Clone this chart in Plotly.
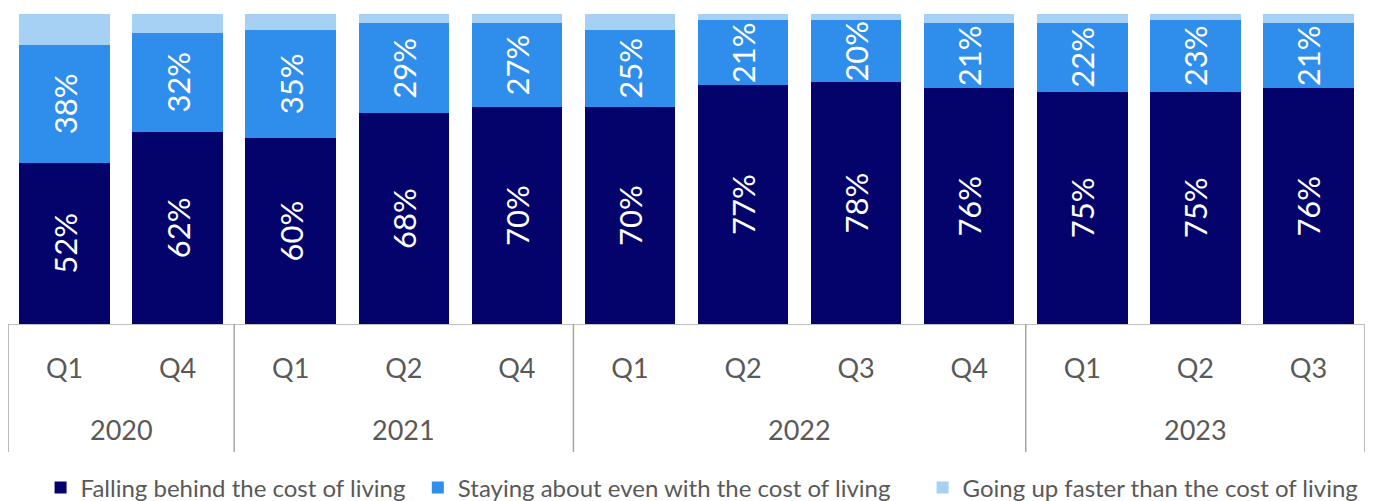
import plotly.graph_objects as go

years = ["2020", "2020", "2021", "2021", "2021", "2022", "2022", "2022", "2022", "2023", "2023", "2023"]
quarters = ["Q1", "Q4", "Q1", "Q2", "Q4", "Q1", "Q2", "Q3", "Q4", "Q1", "Q2", "Q3"]

falling_behind = [52, 62, 60, 68, 70, 70, 77, 78, 76, 75, 75, 76]
staying_even = [38, 32, 35, 29, 27, 25, 21, 20, 21, 22, 23, 21]
going_up = [10, 6, 5, 3, 3, 5, 2, 2, 3, 3, 2, 3]

series_names = [
    "Falling behind the cost of living",
    "Staying about even with the cost of living",
    "Going up faster than the cost of living",
]
colors = ["#03036B", "#2F8DEB", "#A7D0F5"]
legend_ids = ["legend", "legend2", "legend3"]
legend_x = [0.024, 0.302, 0.674]

FONT = "Lato, 'Open Sans', sans-serif"
TEXT_GREY = "#595959"

W, H = 1378, 501
M_L, M_R, M_T, M_B = 8, 13, 14, 177

# unique category keys keep the bars in the original order
keys = [f"{y} {q}" for y, q in zip(years, quarters)]

fig = go.Figure()
for name, vals, col, show, lid in zip(series_names, [falling_behind, staying_even, going_up],
                                      colors, [True, True, False], legend_ids):
    fig.add_trace(go.Bar(
        x=keys,
        y=vals,
        name=name,
        legend=lid,
        marker=dict(color=col, line=dict(width=0)),
        text=[f"{v}%" for v in vals] if show else None,
        texttemplate="%{text}" if show else None,
        textposition="inside" if show else "none",
        insidetextanchor="middle",
        textangle=-90,
        constraintext="none",
        textfont=dict(color="white", size=31, family=FONT),
        hoverinfo="skip",
    ))

# group (year) labels and dividers, positioned from the data order
group_years = []
group_ranges = {}
for i, y in enumerate(years):
    if y not in group_ranges:
        group_years.append(y)
        group_ranges[y] = [i, i]
    group_ranges[y][1] = i

plot_h = H - M_T - M_B
axis_px = M_T + plot_h
year_y = -(430 - axis_px) / plot_h
div_bottom = -(452 - axis_px) / plot_h
legend_y = -(488 - axis_px) / plot_h

for y in group_years:
    a, b = group_ranges[y]
    fig.add_annotation(
        x=(a + b) / 2, y=year_y, xref="x", yref="paper",
        text=y, showarrow=False, yanchor="middle",
        font=dict(size=27, color=TEXT_GREY, family=FONT),
    )

boundaries = [group_ranges[group_years[0]][0] - 0.5] + [group_ranges[y][1] + 0.5 for y in group_years]
for bx in boundaries:
    fig.add_shape(
        type="line", xref="x", yref="paper",
        x0=bx, x1=bx, y0=0, y1=div_bottom,
        line=dict(color="#A6A6A6", width=1.5),
    )

legend_style = dict(
    orientation="h",
    y=legend_y, yanchor="middle",
    xanchor="left",
    font=dict(size=24, color=TEXT_GREY, family=FONT),
    itemwidth=30,
    bgcolor="rgba(0,0,0,0)",
)

fig.update_layout(
    barmode="stack",
    bargap=0.2,
    width=W,
    height=H,
    margin=dict(l=M_L, r=M_R, t=M_T, b=M_B, autoexpand=False),
    paper_bgcolor="white",
    plot_bgcolor="white",
    font=dict(family=FONT, color=TEXT_GREY, size=20),
    showlegend=True,
    legend=dict(x=legend_x[0], **legend_style),
    legend2=dict(x=legend_x[1], **legend_style),
    legend3=dict(x=legend_x[2], **legend_style),
    uniformtext=dict(mode=False),
)
fig.update_xaxes(
    type="category",
    tickmode="array",
    tickvals=keys,
    ticktext=quarters,
    range=[-0.5, len(keys) - 0.5],
    showline=True,
    linecolor="#BFBFBF",
    linewidth=1,
    tickfont=dict(size=27, color=TEXT_GREY, family=FONT),
    ticklabelstandoff=21,
    ticks="",
    showgrid=False,
    automargin=False,
)
fig.update_yaxes(range=[0, 100], visible=False, showgrid=False, automargin=False)

fig.write_html(
    "out.html",
    config={"displayModeBar": False},
    post_script="document.body.style.margin='0';document.body.style.overflow='hidden';",
)
